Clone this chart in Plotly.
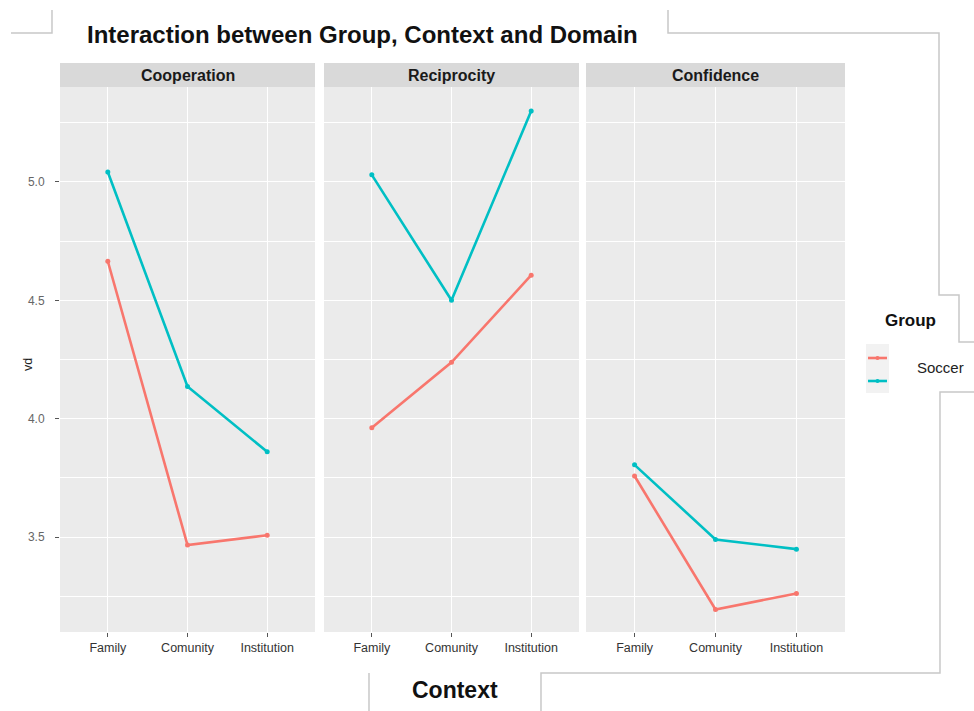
import plotly.graph_objects as go

# ---- data -------------------------------------------------------------
contexts = ["Family", "Comunity", "Institution"]
domains = ["Cooperation", "Reciprocity", "Confidence"]
groups = ["Soccer", "Other"]
group_colors = ["#F8766D", "#00BFC4"]

# mean vd by domain, one list per group (Family, Comunity, Institution)
soccer_vd = {
    "Cooperation": [4.665, 3.466, 3.508],
    "Reciprocity": [3.962, 4.238, 4.606],
    "Confidence": [3.758, 3.194, 3.262],
}
other_vd = {
    "Cooperation": [5.042, 4.136, 3.860],
    "Reciprocity": [5.030, 4.500, 5.300],
    "Confidence": [3.805, 3.490, 3.449],
}
series = [soccer_vd, other_vd]

y_ticks = [3.5, 4.0, 4.5, 5.0]
y_tick_text = ["3.5", "4.0", "4.5", "5.0"]

# ---- layout helpers ---------------------------------------------------
W, H = 974, 711
FONT = "Liberation Sans, Arial, sans-serif"


def px(x):
    return x / W


def py(y):
    return 1 - y / H


panels_px = [(60, 315), (324, 579), (586, 845)]
panel_top, panel_bottom = 87, 632
strip_top = 63

fig = go.Figure()

for i, dom in enumerate(domains):
    ax = "" if i == 0 else str(i + 1)
    for g, (name, col) in enumerate(zip(groups, group_colors)):
        fig.add_trace(go.Scatter(
            x=contexts, y=series[g][dom], name=name,
            mode="lines+markers",
            line=dict(color=col, width=2.6),
            marker=dict(color=col, size=5),
            xaxis="x" + ax, yaxis="y" + ax, showlegend=False,
        ))

layout = dict(
    width=W, height=H, margin=dict(l=0, r=0, t=0, b=0),
    paper_bgcolor="white", plot_bgcolor="#EBEBEB",
    font=dict(family=FONT, color="#333333"),
)

for i, (x0, x1) in enumerate(panels_px):
    ax = "" if i == 0 else str(i + 1)
    layout["xaxis" + ax] = dict(
        domain=[px(x0), px(x1)], type="category",
        categoryorder="array", categoryarray=contexts,
        range=[-0.6, 2.6], anchor="y" + ax,
        showgrid=True, gridcolor="white", gridwidth=1.3,
        zeroline=False, showline=False,
        ticks="outside", ticklen=4, tickcolor="#555555", tickwidth=1,
        tickfont=dict(size=12.5, color="#333333", family=FONT),
        fixedrange=True,
    )
    layout["yaxis" + ax] = dict(
        domain=[py(panel_bottom), py(panel_top)],
        range=[3.099, 5.401], anchor="x" + ax,
        tickvals=y_ticks, ticktext=y_tick_text,
        showticklabels=(i == 0),
        ticks="outside" if i == 0 else "", ticklen=4,
        tickcolor="#555555", tickwidth=1,
        ticklabelstandoff=8 if i == 0 else 0,
        tickfont=dict(size=12, color="#666666", family=FONT),
        showgrid=True, gridcolor="white", gridwidth=1.3,
        minor=dict(dtick=0.25, tick0=3.25, showgrid=True,
                   gridcolor="white", gridwidth=0.6, ticks=""),
        zeroline=False, showline=False, fixedrange=True,
    )

shapes = []
annotations = []

# facet strips
for (x0, x1), dom in zip(panels_px, domains):
    shapes.append(dict(type="rect", xref="paper", yref="paper",
                       x0=px(x0), x1=px(x1), y0=py(panel_top), y1=py(strip_top),
                       fillcolor="#D9D9D9", line=dict(width=0), layer="below"))
    annotations.append(dict(xref="paper", yref="paper",
                            x=px((x0 + x1) / 2), y=py((strip_top + panel_top) / 2),
                            text="<b>%s</b>" % dom, showarrow=False,
                            font=dict(size=16, color="#1A1A1A", family=FONT),
                            xanchor="center", yanchor="middle"))

# light framing lines around the figure
frame_color = "#C8C8C8"
frame_paths = [
    [(11, 33), (52, 33), (52, 10)],
    [(668, 10), (668, 33), (939, 33), (939, 295), (959, 295), (959, 342), (974, 342)],
    [(974, 392), (940, 392), (940, 673), (541, 673), (541, 711)],
    [(369, 673), (369, 711)],
]
for path in frame_paths:
    d = "M " + " L ".join("%f,%f" % (px(a), py(b)) for a, b in path)
    shapes.append(dict(type="path", xref="paper", yref="paper", path=d,
                       line=dict(color=frame_color, width=1.5)))

# title
annotations.append(dict(xref="paper", yref="paper", x=px(85), y=py(34),
                        text="<b>Interaction between Group, Context and Domain</b>",
                        showarrow=False, xanchor="left", yanchor="middle",
                        font=dict(size=24, color="#111111", family=FONT)))
# axis titles
annotations.append(dict(xref="paper", yref="paper", x=px(455), y=py(690),
                        text="<b>Context</b>", showarrow=False,
                        xanchor="center", yanchor="middle",
                        font=dict(size=23, color="#111111", family=FONT)))
annotations.append(dict(xref="paper", yref="paper", x=px(28), y=py(365),
                        text="vd", textangle=-90, showarrow=False,
                        xanchor="center", yanchor="middle",
                        font=dict(size=12.5, color="#222222", family=FONT)))

# legend
annotations.append(dict(xref="paper", yref="paper", x=px(883), y=py(320),
                        text="<b>Group</b>", showarrow=False,
                        xanchor="left", yanchor="middle",
                        font=dict(size=17, color="#111111", family=FONT)))
shapes.append(dict(type="rect", xref="paper", yref="paper",
                   x0=px(866), x1=px(889), y0=py(393), y1=py(344),
                   fillcolor="#F2F2F2", line=dict(width=0)))
for yk, col in zip([358, 381], group_colors):
    shapes.append(dict(type="line", xref="paper", yref="paper",
                       x0=px(868), x1=px(887), y0=py(yk), y1=py(yk),
                       line=dict(color=col, width=2.6)))
    shapes.append(dict(type="circle", xref="paper", yref="paper",
                       x0=px(875.5), x1=px(879.5), y0=py(yk + 2), y1=py(yk - 2),
                       fillcolor=col, line=dict(width=0)))
annotations.append(dict(xref="paper", yref="paper", x=px(915), y=py(367),
                        text=groups[0], showarrow=False,
                        xanchor="left", yanchor="middle",
                        font=dict(size=15, color="#222222", family=FONT)))

layout["shapes"] = shapes
layout["annotations"] = annotations
fig.update_layout(**layout)

fig.write_html("out.html")
